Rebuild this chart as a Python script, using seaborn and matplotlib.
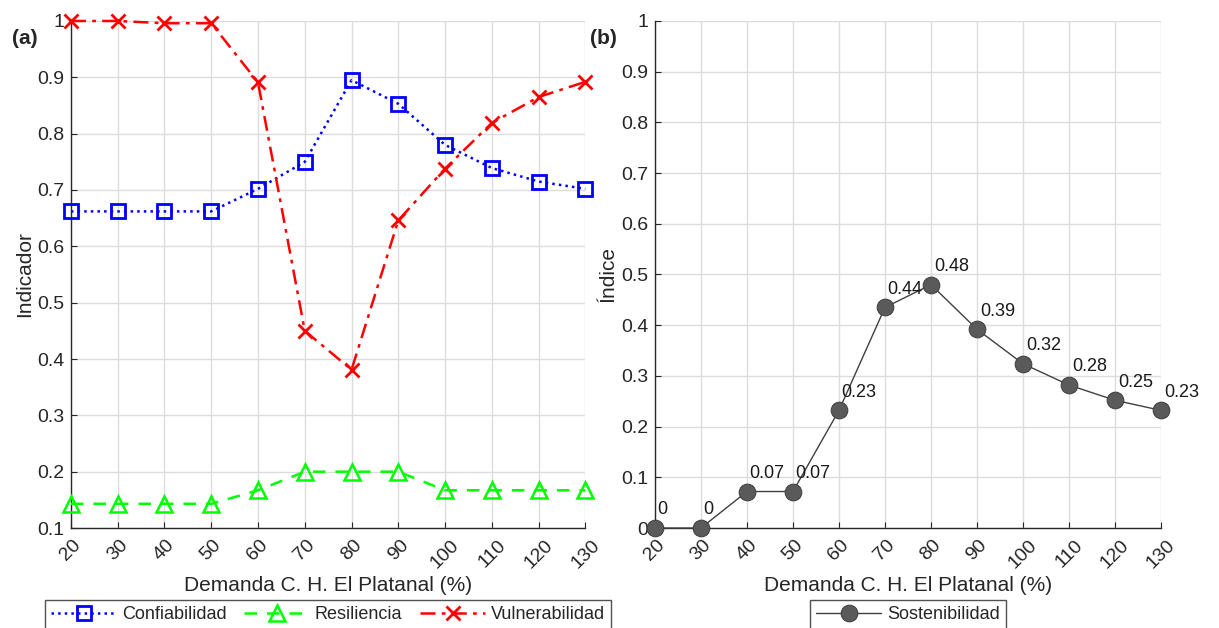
import matplotlib
matplotlib.use("Agg")
import matplotlib.pyplot as plt
import seaborn as sns
import pandas as pd
import numpy as np
from matplotlib.ticker import FuncFormatter

demanda = [20, 30, 40, 50, 60, 70, 80, 90, 100, 110, 120, 130]
confiabilidad = [0.662, 0.662, 0.662, 0.662, 0.702, 0.750, 0.895, 0.853, 0.780, 0.739, 0.715, 0.702]
resiliencia = [0.143, 0.143, 0.143, 0.143, 0.167, 0.200, 0.200, 0.200, 0.167, 0.167, 0.167, 0.167]
vulnerabilidad = [1.000, 1.000, 0.996, 0.996, 0.891, 0.450, 0.381, 0.646, 0.738, 0.819, 0.865, 0.892]
sostenibilidad = [0.0, 0.0, 0.072, 0.072, 0.232, 0.435, 0.480, 0.392, 0.324, 0.282, 0.252, 0.232]
sost_labels = ["0", "0", "0.07", "0.07", "0.23", "0.44", "0.48", "0.39", "0.32", "0.28", "0.25", "0.23"]
xlabel = "Demanda C. H. El Platanal (%)"

sns.set_style("ticks")
plt.rcParams['font.family'] = ['Liberation Sans', 'DejaVu Sans']

fig = plt.figure(figsize=(12.19, 6.28), dpi=100)
ax1 = fig.add_axes([0.0582, 0.1592, 0.4220, 0.8074])
ax2 = fig.add_axes([0.5373, 0.1592, 0.4151, 0.8074])

df = pd.DataFrame({"x": demanda, "c": confiabilidad, "r": resiliencia, "v": vulnerabilidad, "s": sostenibilidad})

sns.lineplot(data=df, x="x", y="c", ax=ax1, color=(0, 0, 1), linestyle=":", linewidth=1.8,
             marker="s", markersize=10, markerfacecolor="none", markeredgecolor=(0, 0, 1),
             markeredgewidth=2, label="Confiabilidad", clip_on=False, zorder=4)
sns.lineplot(data=df, x="x", y="r", ax=ax1, color=(0, 1, 0), linestyle=(0, (5, 4)), linewidth=1.8,
             marker="^", markersize=12, markerfacecolor="none", markeredgecolor=(0, 1, 0),
             markeredgewidth=1.8, label="Resiliencia", clip_on=False, zorder=4)
sns.lineplot(data=df, x="x", y="v", ax=ax1, color=(1, 0, 0), linestyle=(0, (6, 2.5, 1.5, 2.5)), linewidth=1.8,
             marker="x", markersize=10, markeredgecolor=(1, 0, 0), markeredgewidth=2,
             label="Vulnerabilidad", clip_on=False, zorder=4)

sns.lineplot(data=df, x="x", y="s", ax=ax2, color="#404040", linewidth=1.0,
             marker="o", markersize=12, markerfacecolor="#5a5a5a", markeredgecolor="#404040",
             label="Sostenibilidad", clip_on=False, zorder=4)
for xv, yv, lab in zip(demanda, sostenibilidad, sost_labels):
    ax2.annotate(lab, (xv, yv), xytext=(2, 7), textcoords="offset points",
                 ha="left", va="bottom", fontsize=13, color="#1a1a1a", zorder=5)

for ax, ylo, ylab in [(ax1, 0.1, "Indicador"), (ax2, 0.0, "Índice")]:
    ax.set_xlim(20, 130)
    ax.set_ylim(ylo, 1.0)
    ax.set_xticks(demanda)
    ax.set_yticks(np.arange(ylo, 1.0001, 0.1))
    ax.yaxis.set_major_formatter(FuncFormatter(lambda v, p: f"{round(v, 2):g}"))
    ax.grid(True, color="#dcdcdc", linewidth=1.0)
    ax.set_axisbelow(True)
    for s in ["top", "right"]:
        ax.spines[s].set_visible(False)
    for s in ["left", "bottom"]:
        ax.spines[s].set_color("#262626")
        ax.spines[s].set_linewidth(1.0)
    ax.tick_params(direction="in", length=4, labelsize=14, colors="#262626", labelcolor="#262626")
    ax.tick_params(axis="y", pad=5)
    ax.tick_params(axis="x", pad=6)
    plt.setp(ax.get_xticklabels(), rotation=45, ha="center", va="top", rotation_mode="default")
    ax.set_xlabel(xlabel, fontsize=15, color="#262626", labelpad=3)
    ax.set_ylabel(ylab, fontsize=15, color="#262626", labelpad=2)

leg1 = ax1.legend(loc="upper center", bbox_to_anchor=(0.5, -0.142), ncol=3, frameon=True, fancybox=False,
                  edgecolor="#262626", fontsize=13, handlelength=3.6, columnspacing=1.0,
                  handletextpad=0.3, borderpad=0.35, borderaxespad=0)
leg1.get_frame().set_linewidth(1.0)
leg2 = ax2.legend(loc="upper center", bbox_to_anchor=(0.5, -0.142), ncol=1, frameon=True, fancybox=False,
                  edgecolor="#262626", fontsize=13, handlelength=3.6, handletextpad=0.3, borderpad=0.35,
                  borderaxespad=0)
leg2.get_frame().set_linewidth(1.0)

fig.text(25 / 1219, 1 - 38 / 628, "(a)", fontsize=15, fontweight="bold", ha="center", va="center")
fig.text(603 / 1219, 1 - 38 / 628, "(b)", fontsize=15, fontweight="bold", ha="center", va="center")

fig.savefig("out.png", dpi=100)
